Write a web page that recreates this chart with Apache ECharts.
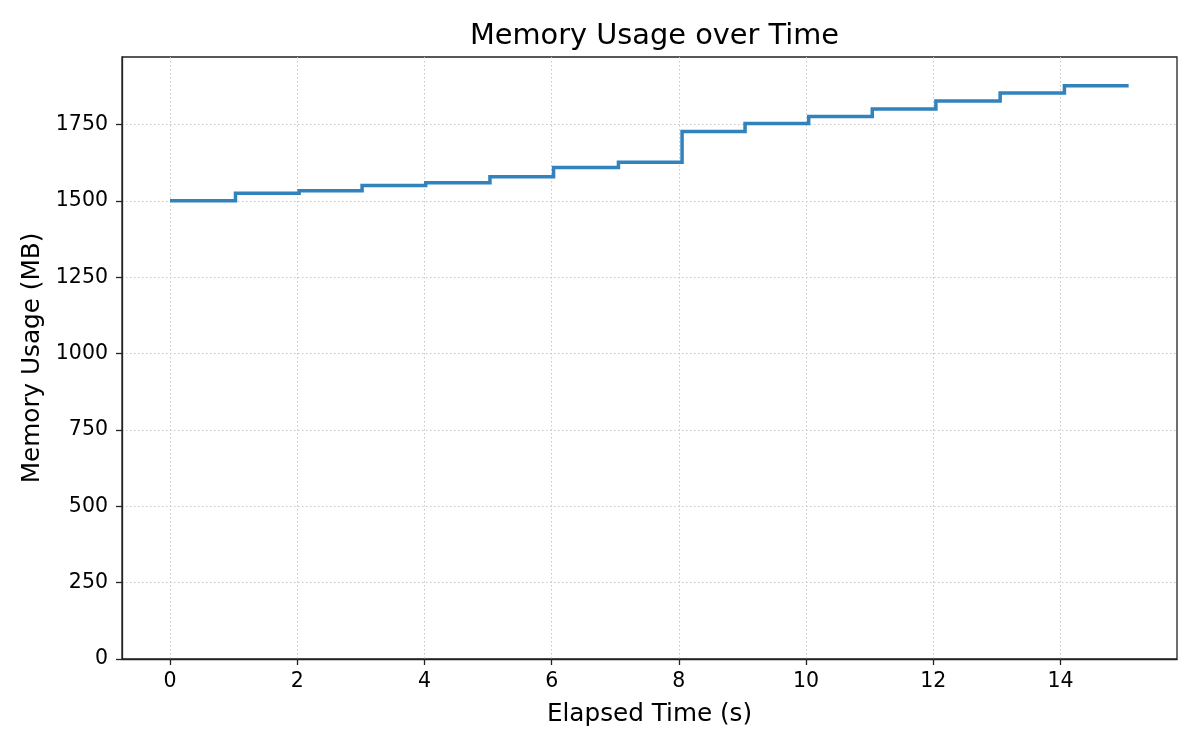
<!DOCTYPE html>
<html>
<head>
<meta charset="utf-8">
<script src="https://cdn.jsdelivr.net/npm/echarts@6/dist/echarts.min.js"></script>
<style>
html,body{margin:0;padding:0;background:#fff;}
#chart{width:1200px;height:750px;}
</style>
</head>
<body>
<div id="chart"></div>
<script>
const elapsedTimes = [0, 1.03, 2.03, 3.02, 4.02, 5.03, 6.03, 7.05, 8.05, 9.04, 10.04, 11.04, 12.04, 13.05, 14.06, 15.07];
const memoryMB = [1500, 1525, 1533, 1550, 1559, 1579, 1609, 1626, 1727, 1753, 1776, 1801, 1827, 1853, 1877, 1877];
const xTickValues = [0, 2, 4, 6, 8, 10, 12, 14];
const yTickValues = [0, 250, 500, 750, 1000, 1250, 1500, 1750];

const seriesData = elapsedTimes.map((t, i) => [t, memoryMB[i]]);
const FONT = 'DejaVu Sans';

const chart = echarts.init(document.getElementById('chart'), null, {renderer: 'canvas'});
chart.setOption({
  animation: false,
  backgroundColor: '#ffffff',
  title: {
    text: 'Memory Usage over Time',
    left: 649.5,
    textAlign: 'center',
    top: 17,
    textStyle: {fontFamily: FONT, fontSize: 28.8, fontWeight: 'normal', color: '#000'}
  },
  grid: {
    left: 122, right: 23, top: 57, bottom: 91,
    show: true, borderColor: '#222', borderWidth: 1.3, backgroundColor: 'transparent'
  },
  xAxis: {
    type: 'value',
    min: -0.754,
    max: 15.83,
    splitNumber: 8,
    name: 'Elapsed Time (s)',
    nameLocation: 'middle',
    nameGap: 43,
    nameTextStyle: {fontFamily: FONT, fontSize: 24.7, color: '#000'},
    axisLine: {show: true, onZero: false, lineStyle: {color: '#222', width: 1.3}},
    axisTick: {show: true, length: 6, inside: false, customValues: xTickValues, lineStyle: {color: '#222', width: 1.3}},
    axisLabel: {
      show: true, margin: 12, fontFamily: FONT, fontSize: 20.5, color: '#000',
      customValues: xTickValues,
      formatter: v => String(v)
    },
    splitLine: {show: true, lineStyle: {color: '#c8c8c8', width: 1, type: [1.5, 2.5]}}
  },
  yAxis: {
    type: 'value',
    min: 0,
    max: 1971,
    interval: 250,
    name: 'Memory Usage (MB)',
    nameLocation: 'middle',
    nameGap: 71,
    nameRotate: 90,
    nameTextStyle: {fontFamily: FONT, fontSize: 24.7, color: '#000'},
    axisLine: {show: true, onZero: false, lineStyle: {color: '#222', width: 1.3}},
    axisTick: {show: true, length: 6, inside: false, customValues: yTickValues, lineStyle: {color: '#222', width: 1.3}},
    axisLabel: {
      show: true, margin: 14, fontFamily: FONT, fontSize: 20.5, color: '#000',
      customValues: yTickValues,
      formatter: v => String(v)
    },
    splitLine: {show: true, lineStyle: {color: '#c8c8c8', width: 1, type: [1.5, 2.5]}}
  },
  series: [{
    type: 'line',
    step: 'end',
    data: seriesData,
    showSymbol: false,
    symbol: 'none',
    lineStyle: {color: '#3182bd', width: 3.5, cap: 'butt', join: 'miter'},
    z: 5
  }]
});
</script>
</body>
</html>
